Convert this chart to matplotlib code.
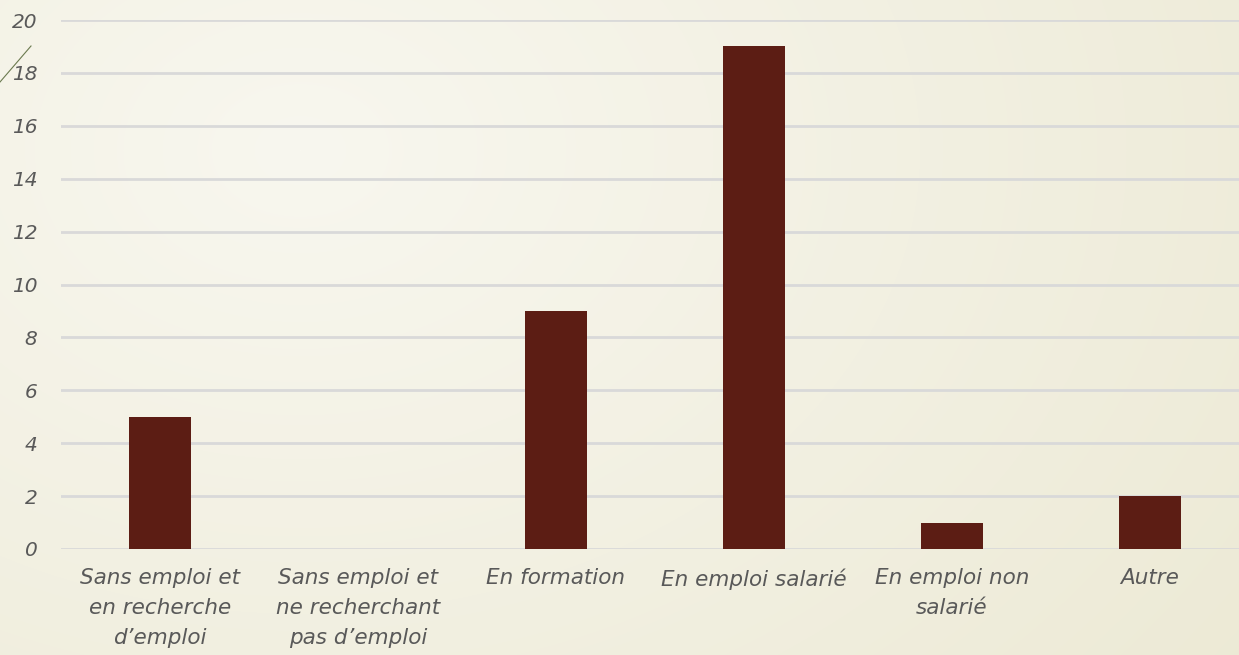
import numpy as np
import matplotlib
matplotlib.use("Agg")
import matplotlib.pyplot as plt
from matplotlib.lines import Line2D

categories = [
    "Sans emploi et\nen recherche\nd\u2019emploi",
    "Sans emploi et\nne recherchant\npas d\u2019emploi",
    "En formation",
    "En emploi salari\u00e9",
    "En emploi non\nsalari\u00e9",
    "Autre",
]
values = [5, 0, 9, 19, 1, 2]
yticks = [0, 2, 4, 6, 8, 10, 12, 14, 16, 18, 20]

BAR_COLOR = '#5C1D14'
TEXT_COLOR = '#595959'
GRID_COLOR = '#D9D9D9'

plt.rcParams['font.family'] = ['DejaVu Sans']

fig = plt.figure(figsize=(12.39, 6.55), dpi=100)

# slide background: soft cream gradient
bg = fig.add_axes([0, 0, 1, 1], zorder=-10)
h, w = 655, 1239
yy, xx = np.mgrid[0:h, 0:w]
d = np.sqrt(((xx - 300) / w) ** 2 + ((yy - 150) / h) ** 2 * 0.5)
d = np.clip(d / 1.0, 0, 1)
c0 = np.array([0xF8, 0xF7, 0xEF]) / 255
c1 = np.array([0xEC, 0xE9, 0xD4]) / 255
img = c0[None, None, :] * (1 - d[..., None]) + c1[None, None, :] * d[..., None]
bg.imshow(img, aspect='auto', extent=[0, 1, 0, 1], origin='upper')
bg.set_axis_off()

# little diagonal decoration at the top left
fig.add_artist(Line2D([0, 31 / w], [1 - 82 / h, 1 - 46 / h],
                      transform=fig.transFigure, color='#6B7A4F', lw=0.8))

ax = fig.add_axes([61 / w, 1 - 549 / h, 1188 / w, 529 / h])
ax.patch.set_alpha(0)
x = np.arange(len(categories))
ax.bar(x, values, width=0.31, color=BAR_COLOR, zorder=3)

ax.set_xlim(-0.5, len(categories) - 0.5)
ax.set_ylim(0, 20)
ax.set_yticks(yticks)
ax.set_xticks(x)
ax.set_xticklabels(categories, fontsize=15.5, style='italic', color=TEXT_COLOR,
                   linespacing=1.6)
ax.set_yticklabels([str(t) for t in yticks], fontsize=14.5, style='italic',
                   color=TEXT_COLOR)
ax.tick_params(axis='both', length=0)
ax.tick_params(axis='y', pad=17)
ax.tick_params(axis='x', pad=14)
ax.yaxis.grid(True, color=GRID_COLOR, lw=2, zorder=0)
for s in ax.spines.values():
    s.set_visible(False)

fig.savefig('out.png', dpi=100)
